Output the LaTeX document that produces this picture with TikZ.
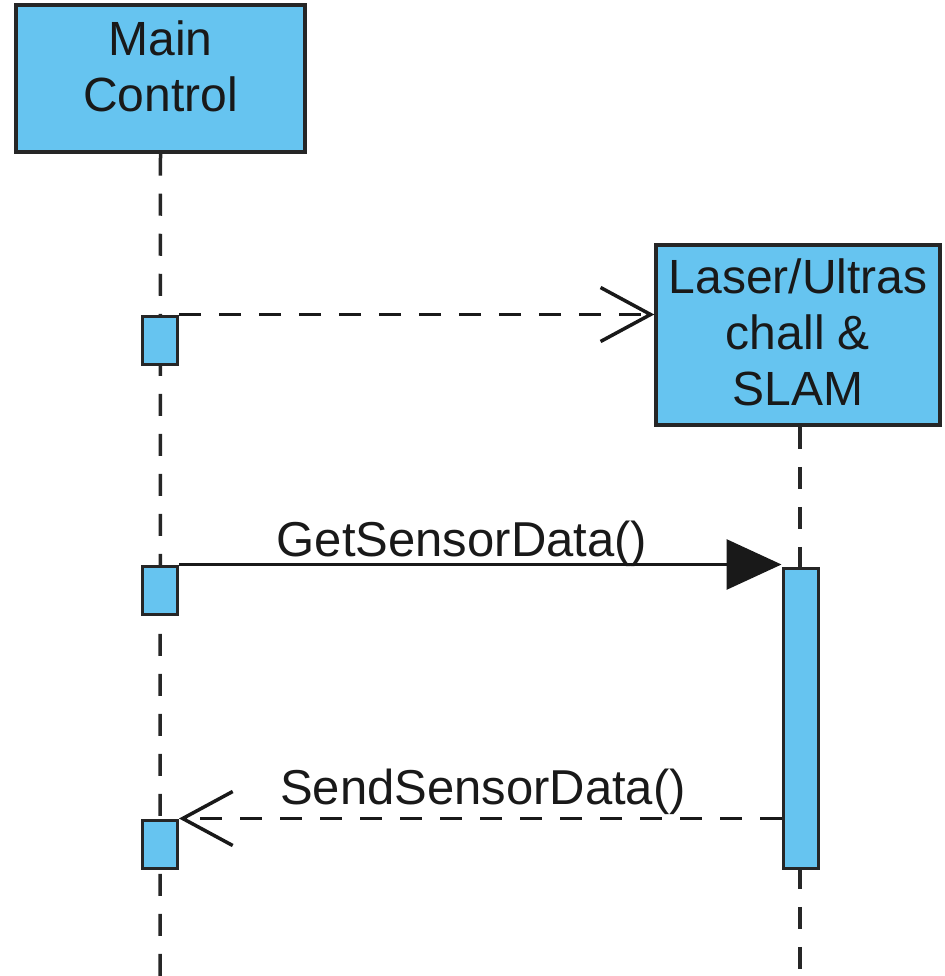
\documentclass[tikz,border=0pt]{standalone}
\usepackage{fontspec}
\setmainfont{Liberation Sans}
\usetikzlibrary{arrows.meta, positioning}
\definecolor{lifeblue}{RGB}{102,196,240}

\begin{document}
\begin{tikzpicture}[x=1pt, y=-1pt,
  actor/.style={rectangle, draw=black!85, line width=3.5pt, fill=lifeblue, align=center,
    text=black!90, font=\fontsize{48}{56}\selectfont, inner sep=0pt, text depth=0pt},
  actbar/.style={rectangle, draw=black!85, line width=3pt, fill=lifeblue,
    minimum width=35pt, inner sep=0pt},
  lifeline/.style={line width=3.5pt, dash pattern=on 22pt off 18pt, draw=black!85},
  call/.style={line width=3pt, draw=black!90, -{Triangle[length=55pt,width=50pt]}},
  reply/.style={line width=3pt, draw=black!90, dash pattern=on 22pt off 18pt,
    -{Straight Barb[length=50pt,width=54pt,line width=3.5pt]}},
  msg/.style={font=\fontsize{49}{56}\selectfont, text=black!90, anchor=base}
]
\useasboundingbox (0,0) rectangle (944,976);

% participants
\node (main) [actor, minimum width=289pt, minimum height=147pt, text height=67pt] at (160.5,78.5) {Main\\Control};
\node (laser) [actor, minimum width=284pt, minimum height=180pt, text height=140pt] at (798,335) {Laser/Ultras\\chall \&\\SLAM};

\coordinate (mainEnd) at (160,976);
\coordinate (laserEnd) at (800,976);

% lifelines
\draw [lifeline] (main.south) -- (mainEnd);
\draw [lifeline] (laser.south -| laserEnd) -- (laserEnd);

% activations
\node (a1) [actbar, minimum height=48pt] at (160,340) {};
\node (a2) [actbar, minimum height=48pt] at (160,590) {};
\node (a3) [actbar, minimum height=48pt] at (160,844) {};
\node (b1) [actbar, minimum height=300pt] at (800.5,718) {};

% messages
\draw [reply] (a1.north east) -- (laser.west |- a1.north east);
\draw [call] (a2.north east) -- (b1.north west |- a2.north east);
\draw [reply] (b1.west |- a3.north) -- (a3.north east);

\node (getlbl) [msg] at (462,556) {GetSensorData()};
\node (sendlbl) [msg] at (483,804) {SendSensorData()};

\end{tikzpicture}
\end{document}
